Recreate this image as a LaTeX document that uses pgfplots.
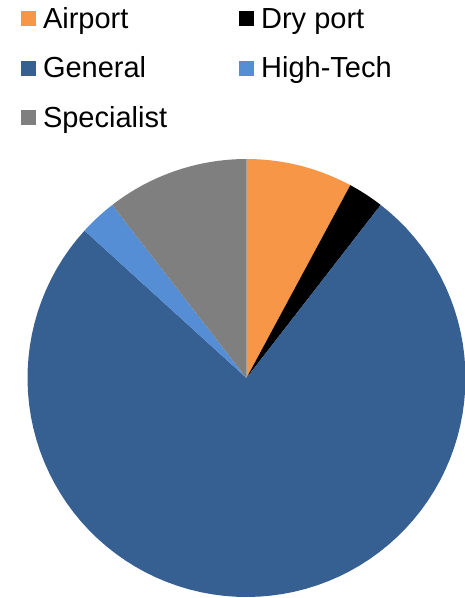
\documentclass[border=0pt]{standalone}
\usepackage{fontspec}
\setmainfont{Liberation Sans}
\usepackage{pgfplots}
\usepackage{pgfplotstable}
\pgfplotsset{compat=1.18}
\definecolor{cAir}{HTML}{F79646}
\definecolor{cDry}{HTML}{000000}
\definecolor{cGen}{HTML}{366092}
\definecolor{cHT}{HTML}{558ED5}
\definecolor{cSpec}{HTML}{7F7F7F}

\pgfplotstableread[col sep=comma]{
category,value
Airport,7.86
Dry port,2.64
General,76.25
High-Tech,2.75
Specialist,10.50
}\piedata

\pgfplotstablegetelem{0}{value}\of\piedata \let\vA\pgfplotsretval
\pgfplotstablegetelem{1}{value}\of\piedata \let\vB\pgfplotsretval
\pgfplotstablegetelem{2}{value}\of\piedata \let\vC\pgfplotsretval
\pgfplotstablegetelem{3}{value}\of\piedata \let\vD\pgfplotsretval
\pgfplotstablegetelem{4}{value}\of\piedata \let\vE\pgfplotsretval
\pgfmathsetmacro\aZ{90}
\pgfmathsetmacro\aA{\aZ-3.6*\vA}
\pgfmathsetmacro\aB{\aA-3.6*\vB}
\pgfmathsetmacro\aC{\aB-3.6*\vC}
\pgfmathsetmacro\aD{\aC-3.6*\vD}
\pgfmathsetmacro\aE{\aD-3.6*\vE}

\newcommand\slice[3]{%
  \addplot[fill=#3, draw=none, domain=#2:#1, samples=90]
    ({cos(x)},{sin(x)}) -- (axis cs:0,0) -- cycle;}

\begin{document}
\begin{tikzpicture}
\useasboundingbox (0pt,0pt) rectangle (464pt,-598pt);
\begin{axis}[
  at={(246.5pt,-378pt)}, anchor=center,
  scale only axis, width=438pt, height=438pt,
  xmin=-1, xmax=1, ymin=-1, ymax=1,
  hide axis, clip=false,
  legend columns=2,
  legend cell align=left,
  legend image code/.code={\fill[#1] (0pt,-5.5pt) rectangle (15pt,9.5pt);},
  legend style={at={(-0.0148,1.347)}, anchor=north west,
    draw=none, fill=none, inner sep=0pt, outer sep=0pt,
    font=\fontsize{29}{34}\selectfont, row sep=22.5pt,
    nodes={inner sep=0pt, text height=21pt, text depth=6pt},
    /tikz/every odd column/.append style={column sep=7pt},
    /tikz/every even column/.append style={column sep=72pt}},
]
\slice{\aZ}{\aA}{cAir}\addlegendentry{Airport}
\slice{\aA}{\aB}{cDry}\addlegendentry{Dry port}
\slice{\aB}{\aC}{cGen}\addlegendentry{General}
\slice{\aC}{\aD}{cHT}\addlegendentry{High-Tech}
\slice{\aD}{\aE}{cSpec}\addlegendentry{Specialist}
\end{axis}
\end{tikzpicture}
\end{document}
